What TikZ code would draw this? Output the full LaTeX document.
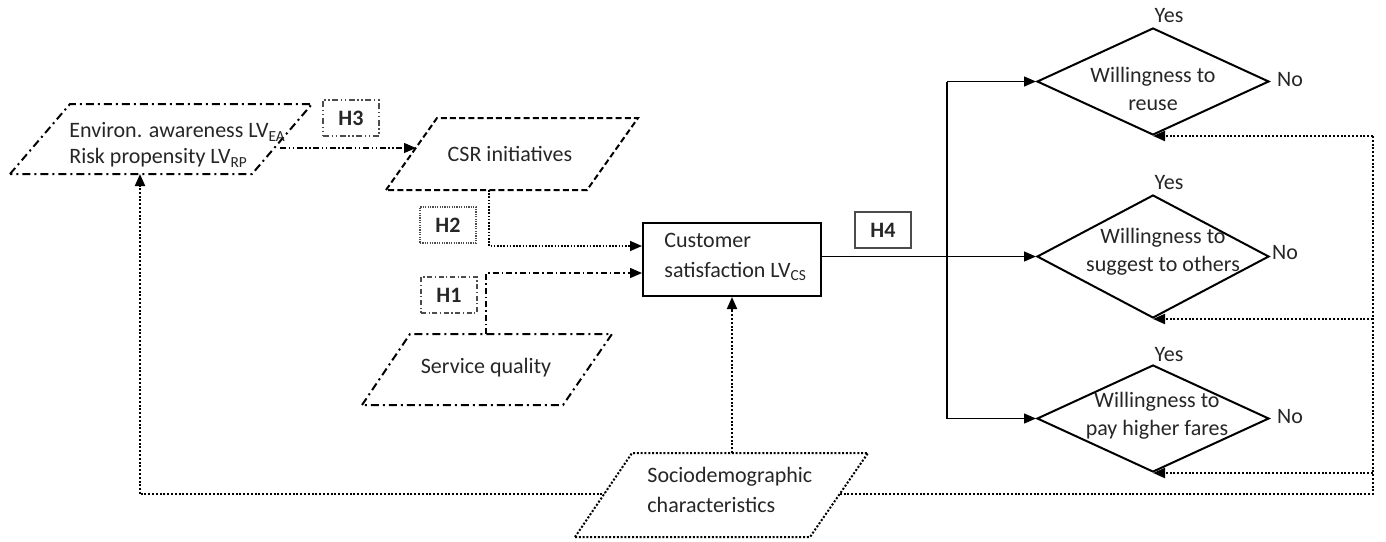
\documentclass[tikz,border=0pt]{standalone}
\usepackage{fontspec}
\setmainfont{Carlito}
\usetikzlibrary{arrows.meta,shapes.geometric}

\begin{document}
\begin{tikzpicture}[x=0.5pt, y={(0pt,-0.5pt)},
  font=\fontsize{11}{14}\selectfont,
  tip/.style={-{Triangle[length=6pt,width=5pt]}},
  txt/.style={inner sep=0pt, text=black!85},
  hbox/.style={draw=black!70, line width=0.6pt, minimum width=28pt, minimum height=18pt, inner sep=0pt, font=\fontsize{11}{14}\selectfont\bfseries, text=black!85},
  dashdot/.style={dash pattern=on 4pt off 2pt on 1pt off 2pt},
  dashdotdot/.style={dash pattern=on 3pt off 1.3pt on 0.7pt off 1.3pt on 0.7pt off 1.3pt},
  dotline/.style={line width=1pt, dash pattern=on 1pt off 0.9pt},
  thindot/.style={line width=0.8pt, dash pattern=on 0.8pt off 0.8pt},
  conn/.style={line width=0.7pt},
  choice/.style={diamond, draw, line width=1pt, inner sep=0pt, fill=white}]

\useasboundingbox (0,0) rectangle (1386,541);

% ---- input constructs (parallelograms) ----
\draw[line width=1pt, dashdot] (10,174) -- (70,104) -- (312,104) -- (252,174) -- cycle;
\node[txt, anchor=west, align=left, font=\fontsize{11}{13}\selectfont] (env) at (69,145)
  {Environ. awareness LV\textsubscript{EA}\\Risk propensity LV\textsubscript{RP}};

\draw[line width=1pt, dash pattern=on 3pt off 1.6pt] (386,190) -- (437,118) -- (638,118) -- (587,190) -- cycle;
\node[txt] (csr) at (510,154) {CSR initiatives};

\draw[line width=1pt, dashdot] (362,405) -- (410,334) -- (612,334) -- (563,405) -- cycle;
\node[txt] (sq) at (486,368) {Service quality};

% ---- hypothesis labels ----
\node[hbox, dashdotdot] (h3) at (351,118) {H3};
\node[hbox, dash pattern=on 0.6pt off 0.6pt] (h2) at (448,225) {H2};
\node[hbox, dash pattern=on 2.5pt off 1.3pt on 0.6pt off 1.3pt] (h1) at (449,295) {H1};
\node[hbox, line width=0.7pt] (h4) at (883,230) {H4};

% ---- customer satisfaction ----
\node[draw, line width=1pt, minimum width=89pt, minimum height=36.5pt, inner sep=0pt] (cs) at (732,259.5) {};
\node[txt, anchor=west, align=left, font=\fontsize{11}{15}\selectfont] (cstext) at (664,257)
  {Customer\\satisfaction LV\textsubscript{CS}};

% ---- behavioural intentions ----
\node[choice, minimum width=116pt, minimum height=53.5pt] (d1) at (1153,81.5) {};
\node[choice, minimum width=116pt, minimum height=61.5pt] (d2) at (1153,256.5) {};
\node[choice, minimum width=116pt, minimum height=53.5pt] (d3) at (1153,418.5) {};
\node[txt, align=center] (d1t) at (1153,89) {Willingness to\\reuse};
\node[txt, align=center] (d2t) at (1163,251.5) {Willingness to\\suggest to others};
\node[txt, align=center] (d3t) at (1157,416) {Willingness to\\pay higher fares};
\foreach \d/\yy in {d1/16,d2/183,d3/355}{
  \node[txt] (\d yes) at (1169,\yy) {Yes};
}
\node[txt] (d1no) at (1290,80) {No};
\node[txt] (d2no) at (1285,253) {No};
\node[txt] (d3no) at (1290,417) {No};

% ---- connectors into customer satisfaction ----
\coordinate (envR) at (280,148);
\coordinate (csrL) at (416,148);
\draw[tip, line width=0.6pt, dashdotdot] (envR) -- (csrL);

\coordinate (csrB) at (489,190);
\coordinate (sqT) at (486,334);
\draw[tip, thindot] (csrB) |- (cs.west |- 0,246);
\draw[tip, line width=0.75pt, dash pattern=on 3pt off 1.5pt on 0.75pt off 1.5pt] (sqT) |- (cs.west |- 0,273);

% ---- outcomes ----
\coordinate (bus) at (947,0);
\draw[conn] (cs.east |- d2.west) -- (bus |- d2.west);
\draw[conn, tip] (bus |- d2.west) -- (d2.west);
\draw[conn, tip] (bus |- d1.west) -- (d1.west);
\draw[conn, tip] (bus |- d1.west) -- (bus |- d3.west) -- (d3.west);

% ---- feedback loop ----
\coordinate (fb) at (1373,494);
\coordinate (fbL) at (140,494);
\coordinate (envB) at (140,174);
\draw[dotline] (fb |- d1.south) -- (fb) -- (fbL);
\draw[dotline, tip] (fbL) -- (envB);
\draw[dotline, tip] (fb |- d1.south) -- (d1.south);
\draw[dotline, tip] (fb |- d2.south) -- (d2.south);
\draw[dotline, tip] (fb |- d3.south) -- (d3.south);

% ---- sociodemographic characteristics ----
\draw[dotline, fill=white] (575,537) -- (632,453) -- (868,453) -- (810,537) -- cycle;
\node[txt, anchor=west, align=left, font=\fontsize{11}{15}\selectfont] (socio) at (647,490)
  {Sociodemographic\\characteristics};
\coordinate (socioT) at (732,453);
\draw[dotline, tip] (socioT) -- (cs.south);

\end{tikzpicture}
\end{document}
